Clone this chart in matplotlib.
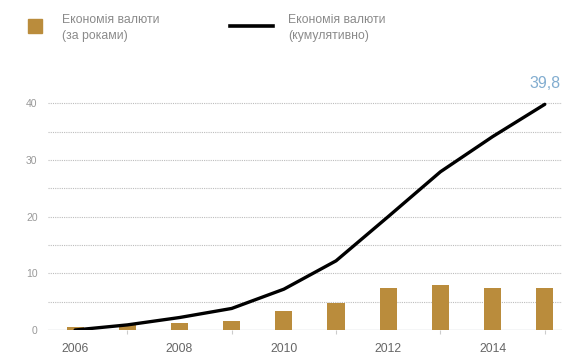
import matplotlib
matplotlib.use("Agg")
import matplotlib.pyplot as plt
from matplotlib.patches import Rectangle
from matplotlib.lines import Line2D

years = [2006, 2007, 2008, 2009, 2010, 2011, 2012, 2013, 2014, 2015]
per_year = [0.5, 0.9, 1.2, 1.65, 3.35, 4.7, 7.45, 7.9, 7.45, 7.45]
cumulative = [0.0, 0.9, 2.2, 3.8, 7.2, 12.2, 20.0, 27.9, 34.1, 39.8]
label_years = [2006, 2008, 2010, 2012, 2014]
last_label = "39,8"

gold = "#BA8C3C"
grey_txt = "#8a8a8a"

plt.rcParams["font.family"] = ["Liberation Sans", "DejaVu Sans"]

fig = plt.figure(figsize=(5.7, 3.56), dpi=100)
ax = fig.add_axes([48 / 570, 26 / 356, 514 / 570, 249.5 / 356])

ax.bar(years, per_year, width=0.33, color=gold, zorder=2)
ax.plot(years, cumulative, color="black", linewidth=2.4, zorder=3,
        solid_capstyle="round")
ax.text(years[-1], cumulative[-1] + 2.4, last_label, color="#82ADD0",
        fontsize=11.5, ha="center", va="bottom")

ax.set_xlim(2005.48, 2015.33)
ax.set_ylim(0, 44)

for y in range(5, 45, 5):
    ax.axhline(y, color="#bdbdbd", linewidth=0.8, linestyle=(0, (1, 1)), zorder=1)
ax.axhline(0, color="#cfd3d8", linewidth=1.0, zorder=1)

for s in ax.spines.values():
    s.set_visible(False)

ax.set_yticks([0, 10, 20, 30, 40])
ax.tick_params(axis="y", length=0, labelsize=7.5, labelcolor="#999999", pad=7.5)
ax.set_xticks(label_years)
ax.set_xticks([2007, 2009, 2011, 2013, 2015], minor=True)
ax.tick_params(axis="x", which="major", length=0, labelsize=8.8,
               labelcolor="#666666", pad=9)
ax.tick_params(axis="x", which="minor", length=3, color="#cccccc", width=0.8)

# legend
fig.patches.append(Rectangle((28 / 570, 1 - 33 / 356), 14 / 570, 14 / 356,
                             transform=fig.transFigure, color=gold))
fig.text(62 / 570, 1 - 20 / 356, "Економія валюти", fontsize=8.8,
         color=grey_txt, va="center")
fig.text(62 / 570, 1 - 35.5 / 356, "(за роками)", fontsize=8.8,
         color=grey_txt, va="center")
fig.lines.append(Line2D([230 / 570, 273 / 570], [1 - 26 / 356, 1 - 26 / 356],
                        transform=fig.transFigure, color="black", linewidth=2.6))
fig.text(288 / 570, 1 - 20 / 356, "Економія валюти", fontsize=8.8,
         color=grey_txt, va="center")
fig.text(288 / 570, 1 - 35.5 / 356, "(кумулятивно)", fontsize=8.8,
         color=grey_txt, va="center")

fig.savefig("out.png", dpi=100, facecolor="white")
